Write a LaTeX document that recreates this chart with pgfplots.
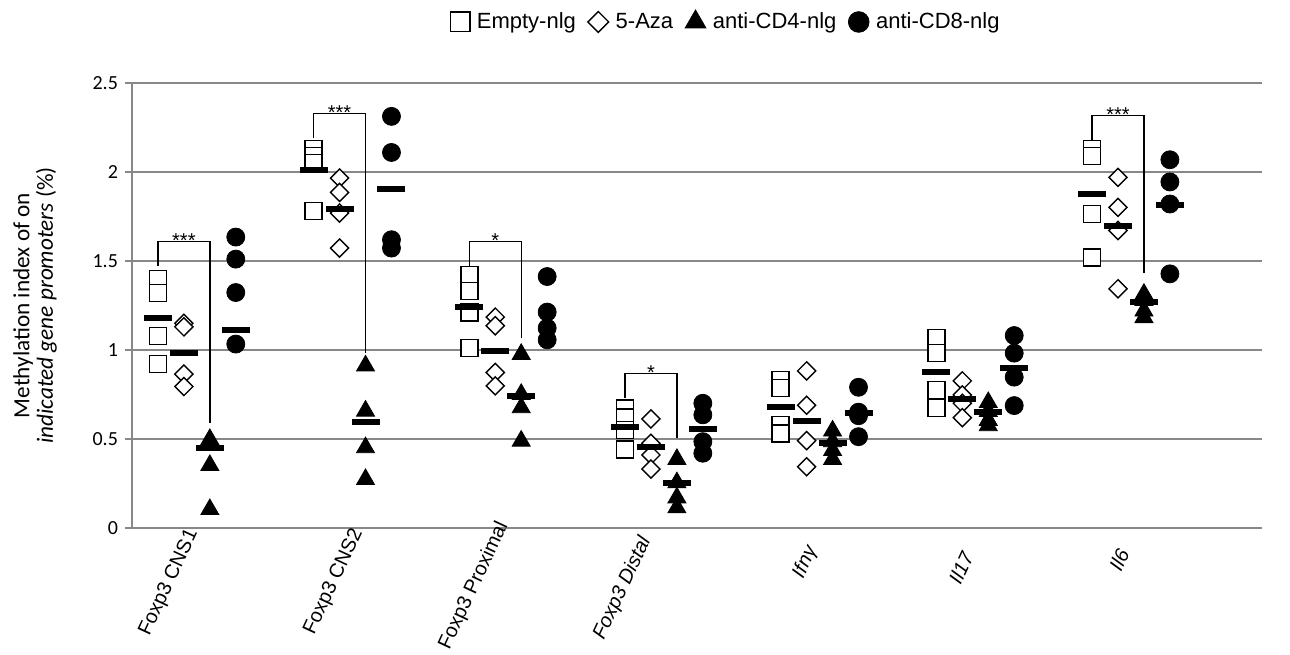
\documentclass[border=0pt]{standalone}
\usepackage{fontspec}
\setmainfont{Liberation Sans}
\newfontfamily\carlito{Carlito}
\usepackage{pgfplots}
\pgfplotsset{compat=1.18}
\definecolor{gridgray}{RGB}{136,136,136}
\begin{document}
\begin{tikzpicture}
\path[use as bounding box] (-66pt,-63.15pt) rectangle (579pt,263.85pt);
\begin{axis}[
  at={(0,0)}, anchor=south west,
  scale only axis, width=565pt, height=222.2pt,
  xmin=0, xmax=43.55, ymin=0, ymax=2.5,
  axis x line*=bottom, axis y line*=left,
  axis line style={gridgray, line width=1pt},
  xtick=\empty,
  ytick={0,0.5,1,1.5,2,2.5},
  ymajorgrids, grid style={gridgray, line width=1pt},
  major tick style={gridgray, line width=1pt},
  major tick length=3.5pt, tick align=outside,
  /pgf/number format/assume math mode=true,
  yticklabel style={font=\carlito\fontsize{10}{12}\selectfont},
  clip=false,
  legend columns=4,
  legend image post style={scale=1.15},
  legend style={draw=none, fill=none, at={(0.5265,1.138)}, anchor=center,
    font=\fontsize{11}{13}\selectfont,
    /tikz/every odd column/.append style={column sep=1.5pt},
    /tikz/every even column/.append style={column sep=4pt}},
]
% Empty-nlg (squares)
\addplot[only marks, mark=square*, mark size=4.25pt, mark options={fill=white, draw=black, line width=0.7pt}] coordinates {
(1,1.40) (1,1.32) (1,1.08) (1,0.92)
(7,2.13) (7,2.09) (7,2.05) (7,1.78)
(13,1.42) (13,1.33) (13,1.21) (13,1.01)
(19,0.67) (19,0.62) (19,0.55) (19,0.44)
(25,0.83) (25,0.785) (25,0.578) (25,0.531)
(31,1.066) (31,0.982) (31,0.775) (31,0.672)
(37,2.13) (37,2.09) (37,1.765) (37,1.52)
};
\addlegendentry{Empty-nlg}
% 5-Aza (diamonds)
\addplot[only marks, mark=square*, mark size=3.2pt, mark options={rotate=45, fill=white, draw=black, line width=0.7pt}] coordinates {
(2,1.15) (2,1.13) (2,0.864) (2,0.794)
(8,1.967) (8,1.886) (8,1.77) (8,1.573)
(14,1.185) (14,1.136) (14,0.873) (14,0.798)
(20,0.612) (20,0.475) (20,0.409) (20,0.33)
(26,0.882) (26,0.689) (26,0.49) (26,0.343)
(32,0.826) (32,0.747) (32,0.70) (32,0.619)
(38,1.971) (38,1.802) (38,1.672) (38,1.344)
};
\addlegendentry{5-Aza}
% anti-CD4-nlg (triangles)
\addplot[only marks, mark=triangle*, mark size=5.2pt, mark options={fill=black, draw=black}] coordinates {
(3,0.497) (3,0.351) (3,0.103)
(9,0.911) (9,0.657) (9,0.451) (9,0.272)
(15,0.976) (15,0.751) (15,0.676) (15,0.488)
(21,0.385) (21,0.254) (21,0.169) (21,0.113)
(27,0.545) (27,0.485) (27,0.435) (27,0.385)
(33,0.705) (33,0.655) (33,0.605) (33,0.575)
(39,1.314) (39,1.28) (39,1.22) (39,1.183)
};
\addlegendentry{anti-CD4-nlg}
% anti-CD8-nlg (circles)
\addplot[only marks, mark=*, mark size=4.5pt, mark options={fill=black, draw=black}] coordinates {
(4,1.635) (4,1.511) (4,1.323) (4,1.033)
(10,2.314) (10,2.111) (10,1.62) (10,1.573)
(16,1.413) (16,1.213) (16,1.123) (16,1.057)
(22,0.70) (22,0.635) (22,0.484) (22,0.419)
(28,0.79) (28,0.65) (28,0.63) (28,0.512)
(34,1.081) (34,0.982) (34,0.847) (34,0.687)
(40,2.07) (40,1.945) (40,1.821) (40,1.428)
};
\addlegendentry{anti-CD8-nlg}
% means
\addplot[only marks, forget plot, mark=-, mark size=7pt, mark options={line width=3pt, black}] coordinates {
(1,1.18) (2,0.985) (3,0.45) (4,1.113)
(7,2.015) (8,1.794) (9,0.593) (10,1.905)
(13,1.244) (14,0.995) (15,0.743)
(19,0.569) (20,0.456) (21,0.253) (22,0.554)
(25,0.681) (26,0.601) (27,0.479) (28,0.644)
(31,0.875) (32,0.725) (33,0.651) (34,0.901)
(37,1.877) (38,1.699) (39,1.269) (40,1.817)
};
% significance brackets
\addplot[forget plot, black, line width=0.7pt] coordinates {(1,1.47) (1,1.609) (3,1.609) (3,0.59)};
\addplot[forget plot, black, line width=0.7pt] coordinates {(7,2.19) (7,2.329) (9,2.329) (9,0.98)};
\addplot[forget plot, black, line width=0.7pt] coordinates {(13,1.47) (13,1.61) (15,1.61) (15,1.066)};
\addplot[forget plot, black, line width=0.7pt] coordinates {(19,0.729) (19,0.867) (21,0.867) (21,0.503)};
\addplot[forget plot, black, line width=0.7pt] coordinates {(37,2.177) (37,2.318) (39,2.318) (39,1.432)};
\node[anchor=base, yshift=-2.8pt, inner sep=0pt, font=\fontsize{10}{12}\selectfont] at (axis cs:2,1.609) {***};
\node[anchor=base, yshift=-2.8pt, inner sep=0pt, font=\fontsize{10}{12}\selectfont] at (axis cs:8,2.329) {***};
\node[anchor=base, yshift=-2.8pt, inner sep=0pt, font=\fontsize{10}{12}\selectfont] at (axis cs:14,1.61) {*};
\node[anchor=base, yshift=-2.8pt, inner sep=0pt, font=\fontsize{10}{12}\selectfont] at (axis cs:20,0.867) {*};
\node[anchor=base, yshift=-2.8pt, inner sep=0pt, font=\fontsize{10}{12}\selectfont] at (axis cs:38,2.318) {***};
% category labels
\tikzset{catlab/.style={rotate=65, anchor=east, inner sep=1pt, font=\fontsize{10}{12}\selectfont}}
\node[catlab] at (axis cs:2.40,-0.005) {Foxp3 CNS1};
\node[catlab] at (axis cs:8.75,0.0) {Foxp3 CNS2};
\node[catlab] at (axis cs:14.35,0.04) {Foxp3 Proximal};
\node[catlab] at (axis cs:19.85,-0.045) {\itshape Foxp3 Distal};
\node[catlab] at (axis cs:26.25,-0.10) {\itshape Ifnγ};
\node[catlab] at (axis cs:32.25,-0.13) {\itshape Il17};
\node[catlab] at (axis cs:38.25,-0.115) {\itshape Il6};
% y label
\node[rotate=90, align=center, font=\carlito\fontsize{11.6}{11.8}\selectfont] at (axis description cs:-0.0858,0.5) {Methylation index of on\\\textit{indicated gene promoters} (\%)};
\end{axis}
\end{tikzpicture}
\end{document}
